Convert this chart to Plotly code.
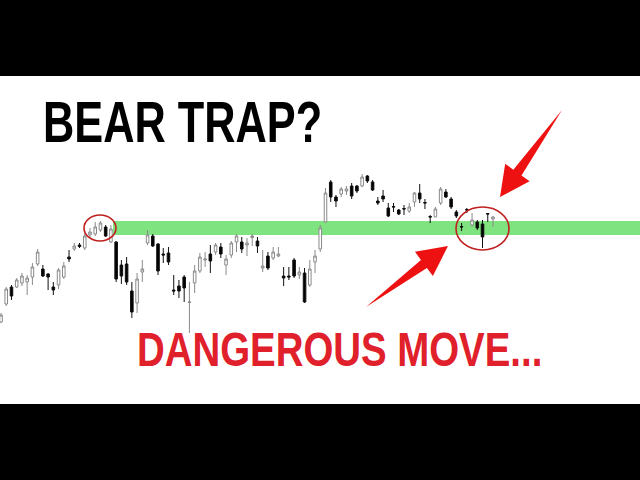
import math
import plotly.graph_objects as go

# OHLC values (arbitrary price units)
opens = [158,176,193,193,197,198,203,216,211,206,193,195,203,223,231,235,232,245,246,250,
         253,238,238,215,216,189,177,208,237,244,236,226,227,190,194,203,177.5,197,209,220,
         226,228,233,215,225,238,238,235,242.5,239,212,224,222,224,204,204,220,205,207,195,
         218,231,258,298,283,286,289,294,294,294,304,298,279,284,272,273.5,270,271.5,269,278,
         287,277.5,263.5,263,277,288,281,268,253.5,270.5,255,258,256,266.5,261]
highs = [167,193,195,202,207,205,217,231,215,207,198,212,218,230,237,237,247,252,258,259,
         255,255,239,220,223,198,207,220,250,246,237,232,233,205,200,205,198,215,227,228,
         235,237,237,225,239,246,243,242,246,243,230,228,233,233,213,213,222,213,212,220,
         230,255,292,300,285,293,294,297,295,306,305,300,283,290,277,277,271,275,277,288,
         296,281,265,273,293,291,283,270,257,272,267,260,260,267,264]
lows = [157,174,180,192,194,185,195,214,203,190,185,191,201,218,229,232,230,243,244,248,
        243,237,198,196,195,162,167,198,235,233,205,217,215,185,182,178,147,187,207,213,
        207,225,222,205,222,228,227,224,234,227,208,210,220,223,194,200,202,201,177,193,
        207,228,257,278,273,283,285,281,287,293,297,289,275,278,263,268,265,265,267,273,
        277,271,257,263,275,282,271,262,249,267,253,250,232,258,253]
closes = [165,191,184,200,204,202,213,228,204,203,190,210,214,221,234,233.5,244,248,253,257,
          244,251,201,204,198,168,201,211,245,234,209,225,218,189,189,192,178,209,223,221,
          219,235,226,221,237,244,231,237,244,234,214,212,228,226,202,203,204,208,178,211,
          224,252,287,283,279,291,291,284,289,303,299,290,277,281,264,273,266,271,273,287,
          281,277,263,271,291,283,273,264,253,270,260,252,243,266,263]
idx = list(range(len(opens)))

band_low, band_high = 245, 259
band_start = 21.4
title_text = "BEAR TRAP?"
sub_text = "DANGEROUS MOVE..."

W, H = 640, 480
def px(x):
    return x / W
def py(y):
    return 1 - y / H

fig = go.Figure()
fig.add_trace(go.Candlestick(
    x=idx, open=opens, high=highs, low=lows, close=closes,
    increasing=dict(fillcolor="white", line=dict(color="#8a8a8a", width=1)),
    decreasing=dict(fillcolor="black", line=dict(color="#111111", width=1)),
    whiskerwidth=0, showlegend=False, hoverinfo="skip"))

shapes = []
shapes.append(dict(type="rect", xref="x", yref="y", x0=band_start, x1=130, y0=band_low, y1=band_high,
                   fillcolor="#7fe37f", line=dict(width=0), layer="below"))
shapes.append(dict(type="circle", xref="paper", yref="paper",
                   x0=px(84), x1=px(116), y0=py(241), y1=py(215),
                   line=dict(color="#c0201f", width=1.6)))
shapes.append(dict(type="circle", xref="paper", yref="paper",
                   x0=px(456), x1=px(509), y0=py(250), y1=py(207),
                   line=dict(color="#c0201f", width=1.6)))

def arrow_path(tail, tip, head_len, head_hw, shaft_hw):
    dx, dy = tip[0] - tail[0], tip[1] - tail[1]
    L = math.hypot(dx, dy)
    ux, uy = dx / L, dy / L
    nx, ny = -uy, ux
    bx, by = tip[0] - head_len * ux, tip[1] - head_len * uy
    pts = [tail,
           (bx + shaft_hw * nx, by + shaft_hw * ny),
           (bx + head_hw * nx, by + head_hw * ny),
           tip,
           (bx - head_hw * nx, by - head_hw * ny),
           (bx - shaft_hw * nx, by - shaft_hw * ny)]
    return "M " + " L ".join(f"{px(a):.5f},{py(b):.5f}" for a, b in pts) + " Z"

for tail, tip in [((562, 110), (500, 197)), ((366, 307), (448, 246))]:
    shapes.append(dict(type="path", xref="paper", yref="paper",
                       path=arrow_path(tail, tip, 30, 15, 5),
                       fillcolor="#ee1111", line=dict(width=0)))

shapes.append(dict(type="rect", xref="paper", yref="paper", x0=0, x1=1, y0=py(76), y1=1,
                   fillcolor="black", line=dict(width=0), layer="above"))
shapes.append(dict(type="rect", xref="paper", yref="paper", x0=0, x1=1, y0=0, y1=py(404),
                   fillcolor="black", line=dict(width=0), layer="above"))

font_fam = "Liberation Sans, Arial, sans-serif"
annotations = [
    dict(text=f"<b>{title_text}</b>", xref="paper", yref="paper", x=px(41), y=py(122),
         xanchor="left", yanchor="middle", showarrow=False,
         font=dict(family=font_fam, size=57, color="black")),
    dict(text=f"<b>{sub_text}</b>", xref="paper", yref="paper", x=px(135), y=py(349),
         xanchor="left", yanchor="middle", showarrow=False,
         font=dict(family=font_fam, size=48, color="#e0202a")),
]

fig.update_layout(
    width=W, height=H, margin=dict(l=0, r=0, t=0, b=0),
    paper_bgcolor="white", plot_bgcolor="white",
    xaxis=dict(range=[-0.191, 122.09], visible=False, rangeslider=dict(visible=False), fixedrange=True),
    yaxis=dict(range=[0, 480], visible=False, fixedrange=True),
    shapes=shapes, annotations=annotations, showlegend=False)

post = """
document.body.style.margin = '0';
var scales = {'0': 0.76, '1': 0.80};
document.querySelectorAll('g.annotation').forEach(function(g){
  var i = g.getAttribute('data-index');
  var t = g.querySelector('text.annotation-text');
  if (t && scales[i]) {
    t.style.transformBox = 'fill-box';
    t.style.transformOrigin = '0% 50%';
    t.style.transform = 'scaleX(' + scales[i] + ')';
  }
});
"""
fig.write_html("out.html", post_script=post, config={"displayModeBar": False})
